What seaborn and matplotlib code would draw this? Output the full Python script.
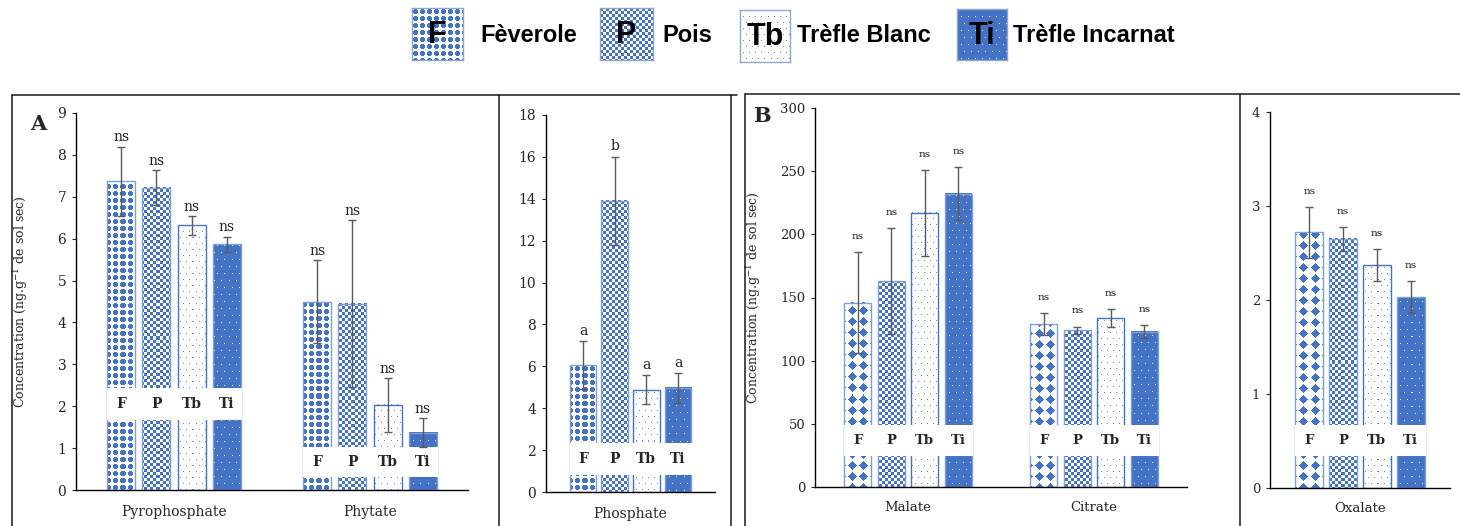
import numpy as np
import pandas as pd
import matplotlib
matplotlib.use("Agg")
import matplotlib.pyplot as plt
import seaborn as sns
from matplotlib import font_manager
from matplotlib.lines import Line2D
from matplotlib.patches import Rectangle

# ── Données ────────────────────────────────────────────────────────
especes = ["F", "P", "Tb", "Ti"]
noms_especes = ["Fèverole", "Pois", "Trèfle Blanc", "Trèfle Incarnat"]

pyro_moy = [7.37, 7.22, 6.32, 5.87]
pyro_err = [0.83, 0.42, 0.23, 0.18]
pyro_sig = ["ns", "ns", "ns", "ns"]

phyt_moy = [4.50, 4.45, 2.03, 1.37]
phyt_err = [1.00, 2.00, 0.64, 0.35]
phyt_sig = ["ns", "ns", "ns", "ns"]

phos_moy = [6.05, 13.90, 4.88, 4.97]
phos_err = [1.15, 2.10, 0.70, 0.70]
phos_sig = ["a", "b", "a", "a"]

mal_moy = [146, 163, 217, 232]
mal_err = [40, 42, 34, 21]
mal_sig = ["ns", "ns", "ns", "ns"]

cit_moy = [129, 124, 134, 123]
cit_err = [9, 3, 7, 5]
cit_sig = ["ns", "ns", "ns", "ns"]

oxa_moy = [2.72, 2.65, 2.37, 2.03]
oxa_err = [0.27, 0.13, 0.17, 0.17]
oxa_sig = ["ns", "ns", "ns", "ns"]

# ── Style ──────────────────────────────────────────────────────────
sns.set_style("ticks")
plt.rcParams["font.family"] = ["DejaVu Serif"]
plt.rcParams["mathtext.fontset"] = "dejavuserif"

dispo = {f.name for f in font_manager.fontManager.ttflist}
POLICE_LEG = "Liberation Sans Narrow" if "Liberation Sans Narrow" in dispo else "Liberation Sans"

BLEU = np.array([0x44, 0x72, 0xC4]) / 255
BLANC = np.ones(3)
BORD = "#7F9FD6"

W, H = 1460, 526
fig = plt.figure(figsize=(W / 100, H / 100), dpi=100)


def boite(x0, y0, x1, y1):
    """axes à partir d'une boîte en pixels (haut-gauche = 0,0)"""
    return fig.add_axes([x0 / W, 1 - y1 / H, (x1 - x0) / W, (y1 - y0) / H])


def motif(nom, px, py):
    if nom == "cercles":
        p = 7
        dx = (px % p) - (p - 1) / 2
        dy = (py % p) - (p - 1) / 2
        masque = dx ** 2 + dy ** 2 <= 2.3 ** 2
        fond, enc = BLANC, BLEU
    elif nom == "losanges":
        p = 11
        dx = (px % p) - (p - 1) / 2
        dy = (py % p) - (p - 1) / 2
        masque = np.abs(dx) + np.abs(dy) <= 4.6
        fond, enc = BLANC, BLEU
    elif nom == "damier":
        masque = ((px // 3) + (py // 3)) % 2 == 0
        fond, enc = BLANC, BLEU
    elif nom == "points":
        rang = py // 6
        masque = (((px + (rang % 2) * 3) % 6) == 0) & (py % 6 == 0)
        fond, enc = BLANC, BLEU * 0.8 + 0.2
    else:  # points blancs sur fond bleu
        rang = py // 7
        masque = (((px + (rang % 2) * 3) % 7) == 0) & (py % 7 == 0)
        fond, enc = BLEU, BLANC * 0.9 + BLEU * 0.1
    return np.where(masque[..., None], enc, fond)


def remplir(ax, barre, nom):
    bx, by = barre.get_x(), barre.get_y()
    bw, bh = barre.get_width(), barre.get_height()
    (x0, y0), (x1, y1) = ax.transData.transform([(bx, by), (bx + bw, by + bh)])
    i0, i1 = int(round(x0)), int(round(x1))
    j0, j1 = int(round(y0)), int(round(y1))
    if i1 <= i0 or j1 <= j0:
        return
    px, py = np.meshgrid(np.arange(i0, i1), np.arange(j1 - 1, j0 - 1, -1))
    ax.imshow(motif(nom, px, py), extent=(bx, bx + bw, by, by + bh),
              interpolation="nearest", aspect="auto", zorder=2.1)


def panneau(ax, composes, moyennes, erreurs, signifs, ymax, ystep,
            largeur, ecart, motif_f, bandes, fs_tick, fs_sig, dy_sig, pad_x):
    df = pd.DataFrame({
        "compose": np.repeat(composes, len(especes)),
        "espece": especes * len(composes),
        "moy": np.concatenate(moyennes),
        "err": np.concatenate(erreurs),
        "sig": np.concatenate(signifs),
    })
    sns.barplot(data=df, x="compose", y="moy", hue="espece",
                order=composes, hue_order=especes,
                palette=["white", "white", "white", "white"],
                width=largeur, gap=ecart, errorbar=None, legend=False,
                edgecolor=BORD, linewidth=1, ax=ax)
    ax.set_xlim(-0.5, len(composes) - 0.5)
    ax.set_ylim(0, ymax)

    motifs = [motif_f, "damier", "points", "points_bleu"]
    centres = {}
    for k, (esp, cont) in enumerate(zip(especes, ax.containers)):
        for j, barre in enumerate(cont):
            remplir(ax, barre, motifs[k])
            barre.set_facecolor("none")
            barre.set_zorder(2.2)
            if esp == "Tb":
                barre.set_edgecolor("#4472C4")
            centres[(composes[j], esp)] = barre.get_x() + barre.get_width() / 2

    df["x"] = [centres[(c, e)] for c, e in zip(df["compose"], df["espece"])]
    ax.errorbar(df["x"], df["moy"], yerr=df["err"], fmt="none",
                ecolor="#5A5A5A", elinewidth=1, capsize=3, capthick=1, zorder=5)
    for _, r in df.iterrows():
        ax.annotate(r["sig"], (r["x"], r["moy"] + r["err"]),
                    xytext=(0, dy_sig), textcoords="offset points",
                    ha="center", va="bottom", fontsize=fs_sig, color="#222222")

    # bandeau blanc avec le code de l'espèce
    bw = ax.containers[0][0].get_width()
    for c, (b0, b1) in zip(composes, bandes):
        xs = [centres[(c, e)] for e in especes]
        ax.add_patch(Rectangle((xs[0] - bw / 2, b0), xs[-1] - xs[0] + bw * 1.05,
                               b1 - b0, facecolor="white", edgecolor="none", zorder=3))
        for x, e in zip(xs, especes):
            ax.text(x, (b0 + b1) / 2, e, ha="center", va="center",
                    fontsize=fs_tick, fontweight="bold", zorder=4)

    ax.set_yticks(np.arange(0, ymax + ystep / 2, ystep))
    ax.set_xlabel("")
    ax.set_ylabel("")
    sns.despine(ax=ax)
    for s in ["left", "bottom"]:
        ax.spines[s].set_color("black")
        ax.spines[s].set_linewidth(1)
    ax.tick_params(axis="y", length=3, width=0.8, labelsize=fs_tick, pad=4)
    ax.tick_params(axis="x", length=0, labelsize=fs_tick, pad=pad_x)
    ax.patch.set_alpha(0)


ylabel = r"Concentration (ng.g$^{\mathregular{-1}}$ de sol sec)"

# ── Panneau A ──────────────────────────────────────────────────────
ax_a1 = boite(76, 113, 468, 490)
panneau(ax_a1, ["Pyrophosphate", "Phytate"], [pyro_moy, phyt_moy],
        [pyro_err, phyt_err], [pyro_sig, phyt_sig], 9, 1, 0.72, 0.2,
        "cercles", [(1.67, 2.43), (0.31, 1.03)], 10, 10, 1.5, 11)
ax_a1.set_ylabel(ylabel, fontsize=9)
ax_a1.yaxis.set_label_coords(-0.117, 0.5)

ax_a2 = boite(546, 115, 715, 492)
panneau(ax_a2, ["Phosphate"], [phos_moy], [phos_err], [phos_sig], 18, 2,
        0.75, 0.15, "cercles", [(0.81, 2.34)], 10, 10, 2.5, 11)

# ── Panneau B ──────────────────────────────────────────────────────
ax_b1 = boite(815, 108, 1187, 487)
panneau(ax_b1, ["Malate", "Citrate"], [mal_moy, cit_moy], [mal_err, cit_err],
        [mal_sig, cit_sig], 300, 50, 0.72, 0.2, "losanges",
        [(24.5, 49), (24.5, 49)], 9.5, 7.5, 8, 10)
ax_b1.set_ylabel(ylabel, fontsize=9)
ax_b1.yaxis.set_label_coords(-0.14, 0.5)

ax_b2 = boite(1270, 112, 1450, 488)
panneau(ax_b2, ["Oxalate"], [oxa_moy], [oxa_err], [oxa_sig], 4, 1,
        0.75, 0.17, "losanges", [(0.34, 0.67)], 9.5, 7.5, 8, 10)

fig.text(38 / W, 1 - 124 / H, "A", fontsize=15, fontweight="bold", ha="center", va="center")
fig.text(762 / W, 1 - 116 / H, "B", fontsize=15, fontweight="bold", ha="center", va="center")

# ── Cadres ─────────────────────────────────────────────────────────
cadres = [
    ([12, 737], [95, 95]), ([12, 12], [95, 526]), ([499, 499], [95, 526]),
    ([731, 731], [95, 526]),
    ([745, 1460], [94, 94]), ([745, 745], [94, 526]), ([1240, 1240], [94, 526]),
]
for xs, ys in cadres:
    fig.add_artist(Line2D([x / W for x in xs], [1 - y / H for y in ys],
                          transform=fig.transFigure, color="#1A1A1A", linewidth=1.1))

# ── Légende ────────────────────────────────────────────────────────
leg_boites = [(412, 8, 463, 60), (600, 8, 653, 60), (740, 10, 790, 62), (957, 9, 1007, 60)]
leg_motifs = ["cercles", "damier", "points", "points_bleu"]
leg_texte_x = [480, 662, 797, 1013]
for esp, nom, (x0, y0, x1, y1), m, tx in zip(especes, noms_especes, leg_boites,
                                             leg_motifs, leg_texte_x):
    axl = boite(x0, y0, x1, y1)
    px, py = np.meshgrid(np.arange(x1 - x0), np.arange(y1 - y0))
    axl.imshow(motif(m, px, py), interpolation="nearest", aspect="auto")
    axl.set_xticks([])
    axl.set_yticks([])
    for s in axl.spines.values():
        s.set_color("#8FA5CF")
        s.set_linewidth(1)
    axl.text(0.5, 0.48, esp, transform=axl.transAxes, ha="center", va="center",
             fontsize=22, fontweight="bold", family="Liberation Sans", color="black")
    fig.text(tx / W, 1 - 36 / H, nom, ha="left", va="center", fontsize=17,
             fontweight="bold", family=POLICE_LEG, color="black")

fig.savefig("out.png", dpi=100)
